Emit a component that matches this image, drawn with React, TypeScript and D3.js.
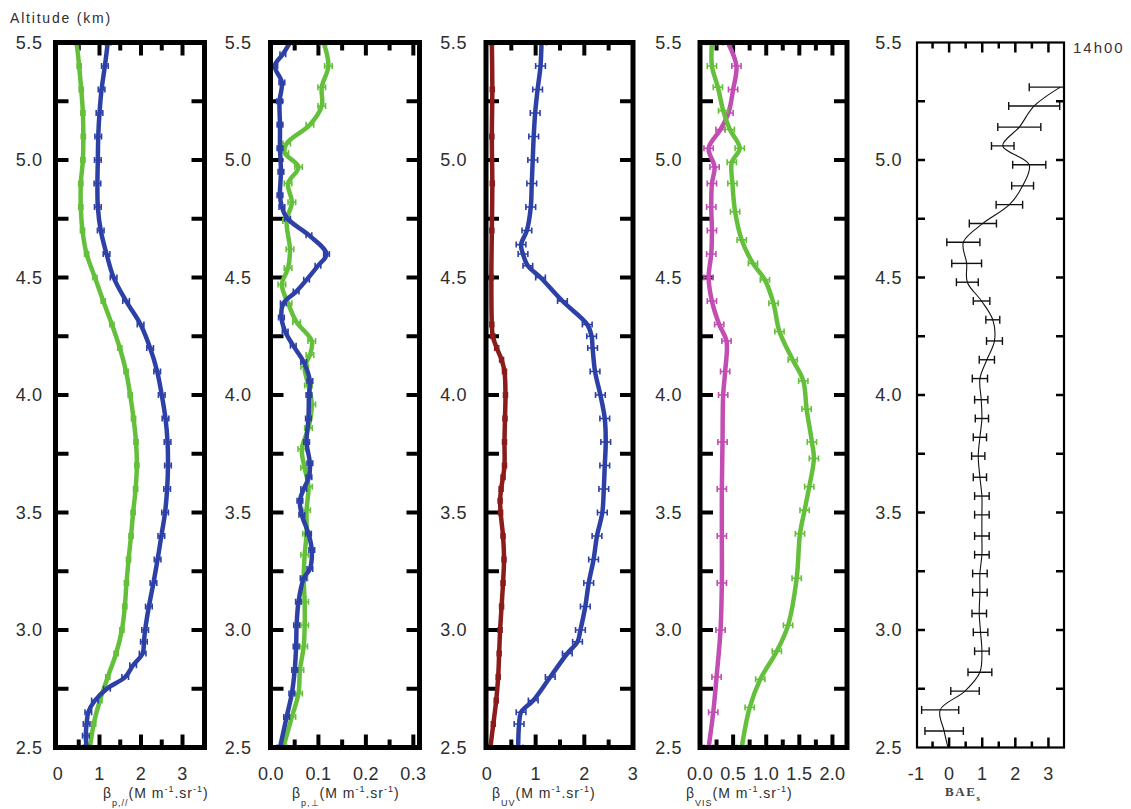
import React from "react";
import * as d3 from "d3";

// ---------------- DATA ----------------
const altitudeMajor = [2.5, 3.0, 3.5, 4.0, 4.5, 5.0, 5.5];
const altitudeLabels = ["2.5", "3.0", "3.5", "4.0", "4.5", "5.0", "5.5"];
const altitudeMinor = [2.75, 3.25, 3.75, 4.25, 4.75, 5.25];

// Panel 1: beta p,//
const p1GreenAlt = [5.5,5.4,5.3,5.2,5.1,5.0,4.9,4.8,4.7,4.6,4.5,4.4,4.3,4.2,4.1,4.0,3.9,3.8,3.7,3.6,3.5,3.4,3.3,3.2,3.1,3.0,2.9,2.8,2.7,2.6,2.5];
const p1GreenVal = [0.45,0.51,0.56,0.60,0.61,0.60,0.55,0.55,0.59,0.69,0.89,1.09,1.30,1.49,1.64,1.74,1.82,1.88,1.90,1.87,1.81,1.76,1.70,1.65,1.61,1.54,1.40,1.20,1.01,0.86,0.77];
const p1GreenErr = 0.05;
const p1BlueAlt = [5.5,5.4,5.3,5.2,5.1,5.0,4.9,4.8,4.7,4.6,4.5,4.4,4.3,4.2,4.1,4.0,3.9,3.8,3.7,3.6,3.5,3.4,3.3,3.2,3.1,3.0,2.95,2.9,2.85,2.8,2.75,2.7,2.65,2.6,2.55,2.5];
const p1BlueVal = [1.20,1.13,1.05,1.00,0.97,0.96,0.95,0.96,1.03,1.17,1.34,1.64,1.99,2.22,2.39,2.50,2.59,2.64,2.65,2.63,2.58,2.49,2.40,2.30,2.19,2.10,2.07,2.04,1.81,1.62,1.18,0.89,0.73,0.69,0.67,0.69];
const p1BlueErr = 0.08;
const p1TickVals = [0, 1, 2, 3];
const p1TickLabels = ["0", "1", "2", "3"];
const p1Minor = [0.5, 1.5, 2.5];

// Panel 2: beta p,perp
const p2BlueAlt = [5.5,5.45,5.4,5.33,5.25,5.15,5.05,4.95,4.85,4.8,4.75,4.68,4.6,4.55,4.49,4.44,4.39,4.33,4.27,4.21,4.14,4.06,4.0,3.9,3.8,3.71,3.65,3.6,3.55,3.49,3.41,3.34,3.26,3.22,3.12,3.02,2.93,2.83,2.73,2.63,2.5];
const p2BlueVal = [0.040,0.025,0.008,0.023,0.018,0.019,0.019,0.021,0.019,0.023,0.035,0.080,0.117,0.099,0.075,0.053,0.026,0.022,0.030,0.047,0.069,0.082,0.080,0.079,0.075,0.082,0.080,0.069,0.061,0.065,0.079,0.086,0.082,0.069,0.058,0.054,0.053,0.050,0.044,0.033,0.019];
const p2BlueErr = 0.006;
const p2GreenAlt = [5.5,5.4,5.31,5.23,5.15,5.07,5.03,4.97,4.9,4.82,4.74,4.62,4.54,4.47,4.39,4.31,4.23,4.17,4.12,4.04,3.96,3.86,3.77,3.69,3.61,3.51,3.41,3.32,3.22,3.12,3.02,2.93,2.83,2.73,2.63,2.5];
const p2GreenVal = [0.111,0.121,0.107,0.107,0.082,0.033,0.029,0.058,0.036,0.044,0.033,0.040,0.036,0.023,0.036,0.054,0.086,0.082,0.071,0.079,0.086,0.079,0.065,0.071,0.079,0.075,0.075,0.071,0.069,0.071,0.071,0.069,0.061,0.058,0.044,0.026];
const p2GreenErr = 0.008;
const p2TickVals = [0, 0.1, 0.2, 0.3];
const p2TickLabels = ["0.0", "0.1", "0.2", "0.3"];
const p2Minor = [0.05, 0.15, 0.25];

// Panel 3: beta UV
const p3RedAlt = [5.5,5.3,5.1,4.9,4.7,4.5,4.3,4.25,4.2,4.15,4.1,4.0,3.9,3.8,3.7,3.65,3.6,3.55,3.5,3.4,3.3,3.2,3.1,3.0,2.9,2.8,2.7,2.6,2.5];
const p3RedVal = [0.10,0.11,0.10,0.11,0.10,0.09,0.10,0.12,0.20,0.30,0.36,0.38,0.37,0.36,0.36,0.33,0.29,0.27,0.28,0.33,0.35,0.33,0.30,0.27,0.25,0.23,0.19,0.13,0.07];
const p3RedErr = 0.04;
const p3BlueAlt = [5.5,5.4,5.3,5.2,5.1,5.0,4.9,4.8,4.7,4.64,4.6,4.55,4.5,4.4,4.3,4.25,4.2,4.1,4.0,3.9,3.8,3.7,3.6,3.5,3.4,3.3,3.2,3.1,3.0,2.95,2.9,2.8,2.7,2.65,2.6,2.5];
const p3BlueVal = [1.12,1.10,1.04,0.99,0.96,0.94,0.92,0.90,0.82,0.70,0.74,0.84,1.10,1.55,2.06,2.15,2.17,2.22,2.33,2.42,2.44,2.42,2.40,2.37,2.26,2.19,2.09,2.02,1.92,1.86,1.65,1.30,0.95,0.70,0.66,0.64];
const p3BlueErr = 0.1;
const p3TickVals = [0, 1, 2, 3];
const p3TickLabels = ["0", "1", "2", "3"];
const p3Minor = [0.5, 1.5, 2.5];

// Panel 4: beta VIS
const p4MagentaAlt = [5.5,5.4,5.3,5.2,5.13,5.05,4.97,4.9,4.8,4.7,4.6,4.5,4.4,4.3,4.23,4.1,4.0,3.8,3.6,3.4,3.2,3.0,2.8,2.65,2.5];
const p4MagentaVal = [0.42,0.55,0.50,0.43,0.31,0.13,0.22,0.18,0.17,0.18,0.17,0.13,0.18,0.29,0.40,0.38,0.35,0.34,0.33,0.33,0.33,0.31,0.25,0.20,0.13];
const p4MagentaErr = 0.07;
const p4GreenAlt = [5.5,5.4,5.31,5.21,5.13,5.05,4.99,4.9,4.78,4.66,4.56,4.49,4.39,4.27,4.15,4.06,3.94,3.8,3.73,3.61,3.51,3.41,3.22,3.02,2.91,2.79,2.67,2.5];
const p4GreenVal = [0.18,0.18,0.27,0.35,0.45,0.60,0.48,0.49,0.53,0.63,0.80,0.98,1.11,1.20,1.40,1.56,1.61,1.69,1.72,1.65,1.58,1.51,1.46,1.33,1.16,0.91,0.75,0.63];
const p4GreenErr = 0.07;
const p4TickVals = [0, 0.5, 1.0, 1.5, 2.0];
const p4TickLabels = ["0.0", "0.5", "1.0", "1.5", "2.0"];
const p4Minor = [0.25, 0.75, 1.25, 1.75];

// Panel 5: BAE
const baeAlt = [5.31,5.23,5.14,5.06,4.98,4.89,4.81,4.73,4.65,4.56,4.48,4.40,4.32,4.23,4.15,4.07,3.98,3.90,3.82,3.74,3.65,3.57,3.49,3.40,3.32,3.24,3.16,3.07,2.99,2.91,2.82,2.74,2.66,2.57,2.48];
const baeVal = [3.36,2.57,2.12,1.62,2.42,2.22,1.82,1.02,0.43,0.53,0.55,0.98,1.32,1.37,1.14,0.93,0.97,0.99,0.93,0.88,0.93,0.99,0.99,0.99,0.99,0.93,0.93,0.91,0.95,0.99,0.93,0.48,-0.27,-0.15,0.0];
const baeErr = [0.94,0.77,0.65,0.34,0.5,0.33,0.4,0.41,0.5,0.45,0.33,0.25,0.21,0.24,0.23,0.23,0.2,0.2,0.2,0.2,0.2,0.22,0.22,0.22,0.22,0.22,0.22,0.22,0.22,0.22,0.36,0.43,0.56,0.58,0];
const p5TickVals = [-1, 0, 1, 2, 3];
const p5TickLabels = ["-1", "0", "1", "2", "3"];
const p5Minor = [-0.5, 0.5, 1.5, 2.5];

const titleSubs = ["p,//", "p,\u22a5", "UV", "VIS"];

// ---------------- STYLE / LAYOUT ----------------
const GREEN = "#64c03b";
const BLUE = "#2d40a6";
const RED = "#8a1c1c";
const MAGENTA = "#c24db3";
const TEXT = "#2e2e2e";
const FONT = "'Liberation Sans', Arial, sans-serif";

const Y_TOP = 42.5;
const Y_BOT = 747.5;
const yScale = d3.scaleLinear().domain([2.5, 5.5]).range([Y_BOT, Y_TOP]);

type Series = { alt: number[]; val: number[]; err: number | number[]; color: string; width: number; errWidth: number; cap: number };

const mk = (alt: number[], val: number[], err: number | number[], color: string, width = 4.5, errWidth = 1.6, cap = 3): Series => ({ alt, val, err, color, width, errWidth, cap });

type Panel = {
  x0: number; x1: number; domain: [number, number];
  ticks: number[]; labels: string[]; minor: number[];
  series: Series[];
  border: number; tickW: number; yLen: number; majLen: number; minLen: number; labelGap: number;
  titleX: number; sub: string | null;
};

const panels: Panel[] = [
  { x0: 55.5, x1: 204.5, domain: [-0.06, 3.53], ticks: p1TickVals, labels: p1TickLabels, minor: p1Minor,
    series: [mk(p1GreenAlt, p1GreenVal, p1GreenErr, GREEN), mk(p1BlueAlt, p1BlueVal, p1BlueErr, BLUE)],
    border: 5, tickW: 4, yLen: 13, majLen: 13, minLen: 8, labelGap: 13, titleX: 103, sub: titleSubs[0] },
  { x0: 270.5, x1: 419.5, domain: [-0.001, 0.313], ticks: p2TickVals, labels: p2TickLabels, minor: p2Minor,
    series: [mk(p2GreenAlt, p2GreenVal, p2GreenErr, GREEN), mk(p2BlueAlt, p2BlueVal, p2BlueErr, BLUE)],
    border: 5, tickW: 4, yLen: 13, majLen: 13, minLen: 8, labelGap: 19, titleX: 292, sub: titleSubs[1] },
  { x0: 486, x1: 633, domain: [-0.02, 3.0], ticks: p3TickVals, labels: p3TickLabels, minor: p3Minor,
    series: [mk(p3RedAlt, p3RedVal, p3RedErr, RED), mk(p3BlueAlt, p3BlueVal, p3BlueErr, BLUE)],
    border: 5, tickW: 4, yLen: 13, majLen: 13, minLen: 8, labelGap: 19, titleX: 492, sub: titleSubs[2] },
  { x0: 700, x1: 847, domain: [0, 2.22], ticks: p4TickVals, labels: p4TickLabels, minor: p4Minor,
    series: [mk(p4MagentaAlt, p4MagentaVal, p4MagentaErr, MAGENTA), mk(p4GreenAlt, p4GreenVal, p4GreenErr, GREEN)],
    border: 5, tickW: 4, yLen: 13, majLen: 13, minLen: 8, labelGap: 18, titleX: 686, sub: titleSubs[3] },
  { x0: 917, x1: 1064, domain: [-0.97, 3.47], ticks: p5TickVals, labels: p5TickLabels, minor: p5Minor,
    series: [mk(baeAlt, baeVal, baeErr, "#111", 1.1, 1.4, 4)],
    border: 2.2, tickW: 2.5, yLen: 8, majLen: 10, minLen: 6, labelGap: 15, titleX: 945, sub: null },
];

function PanelView({ p, i }: { p: Panel; i: number }) {
  const x = d3.scaleLinear().domain(p.domain).range([p.x0, p.x1]);
  const inside = (v: number) => x(v) > p.x0 + 3 && x(v) < p.x1 - 3;
  const yTickAlts = [...altitudeMajor, ...altitudeMinor].filter((a) => a > 2.5 && a < 5.5);
  const clipId = `clip-${i}`;
  return (
    <g>
      <defs>
        <clipPath id={clipId}>
          <rect x={p.x0} y={Y_TOP} width={p.x1 - p.x0} height={Y_BOT - Y_TOP} />
        </clipPath>
      </defs>
      {yTickAlts.map((a) => (
        <g key={"yt" + a} stroke="#000" strokeWidth={p.tickW}>
          <line x1={p.x0} x2={p.x0 + p.yLen} y1={yScale(a)} y2={yScale(a)} />
          <line x1={p.x1} x2={p.x1 - p.yLen} y1={yScale(a)} y2={yScale(a)} />
        </g>
      ))}
      {p.ticks.filter(inside).map((v) => (
        <g key={"xt" + v} stroke="#000" strokeWidth={p.tickW}>
          <line x1={x(v)} x2={x(v)} y1={Y_TOP} y2={Y_TOP + p.majLen} />
          <line x1={x(v)} x2={x(v)} y1={Y_BOT} y2={Y_BOT - p.majLen} />
        </g>
      ))}
      {p.minor.filter(inside).map((v) => (
        <g key={"xm" + v} stroke="#000" strokeWidth={p.tickW}>
          <line x1={x(v)} x2={x(v)} y1={Y_TOP} y2={Y_TOP + p.minLen} />
          <line x1={x(v)} x2={x(v)} y1={Y_BOT} y2={Y_BOT - p.minLen} />
        </g>
      ))}
      <g clipPath={`url(#${clipId})`}>
        {p.series.map((s, si) => {
          const pts: [number, number][] = s.alt.map((a, k) => [x(s.val[k]), yScale(a)]);
          const path = d3.line().curve(d3.curveCatmullRom.alpha(0.5))(pts) || "";
          return (
            <g key={"s" + si}>
              <path d={path} fill="none" stroke={s.color} strokeWidth={s.width} strokeLinejoin="round" />
              {s.alt.map((a, k) => {
                const e = Array.isArray(s.err) ? s.err[k] : s.err;
                if (!e) return null;
                const xl = x(s.val[k] - e);
                const xr = x(s.val[k] + e);
                const yy = yScale(a);
                return (
                  <g key={"e" + k} stroke={s.color} strokeWidth={s.errWidth}>
                    <line x1={xl} x2={xr} y1={yy} y2={yy} />
                    <line x1={xl} x2={xl} y1={yy - s.cap} y2={yy + s.cap} />
                    <line x1={xr} x2={xr} y1={yy - s.cap} y2={yy + s.cap} />
                  </g>
                );
              })}
            </g>
          );
        })}
      </g>
      <rect x={p.x0} y={Y_TOP} width={p.x1 - p.x0} height={Y_BOT - Y_TOP} fill="none" stroke="#000" strokeWidth={p.border} />
      {altitudeMajor.map((a, k) => (
        <text key={"yl" + a} x={p.x0 - p.labelGap} y={yScale(a)} dy="0.36em" textAnchor="end"
          fontFamily={FONT} fontSize={18} fill={TEXT} letterSpacing={0.6}>{altitudeLabels[k]}</text>
      ))}
      {p.ticks.map((v, k) => (
        <text key={"xl" + v} x={x(v)} y={780} textAnchor="middle" fontFamily={FONT} fontSize={18} fill={TEXT} letterSpacing={0.3}>{p.labels[k]}</text>
      ))}
      {p.sub !== null ? (
        <text x={p.titleX} y={798} fontFamily={FONT} fontSize={14} fill={TEXT} letterSpacing={1}>
          <tspan>β</tspan>
          <tspan fontSize={9} dy={8}>{p.sub}</tspan>
          <tspan dy={-8}>(M m</tspan>
          <tspan fontSize={9} dy={-6}>-1</tspan>
          <tspan dy={6}>.sr</tspan>
          <tspan fontSize={9} dy={-6}>-1</tspan>
          <tspan dy={6}>)</tspan>
        </text>
      ) : (
        <text x={p.titleX} y={796} fontFamily="'Liberation Serif', 'DejaVu Serif', serif" fontWeight="bold" fontSize={13} fill="#444" letterSpacing={1.6}>
          <tspan>BAE</tspan>
          <tspan fontSize={9} dy={5}>s</tspan>
        </text>
      )}
    </g>
  );
}

export default function App() {
  return (
    <svg width={1131} height={809} viewBox="0 0 1131 809" style={{ position: "absolute", left: 0, top: 0, background: "#fff" }}>
      <rect x={0} y={0} width={1131} height={809} fill="#fff" />
      <text x={10} y={23} fontFamily={FONT} fontSize={14} fill={TEXT} letterSpacing={1.8}>Altitude (km)</text>
      <text x={1073} y={53} fontFamily={FONT} fontSize={15} fill="#3a2f3a" letterSpacing={2}>14h00</text>
      {panels.map((p, i) => (
        <PanelView key={i} p={p} i={i} />
      ))}
    </svg>
  );
}
